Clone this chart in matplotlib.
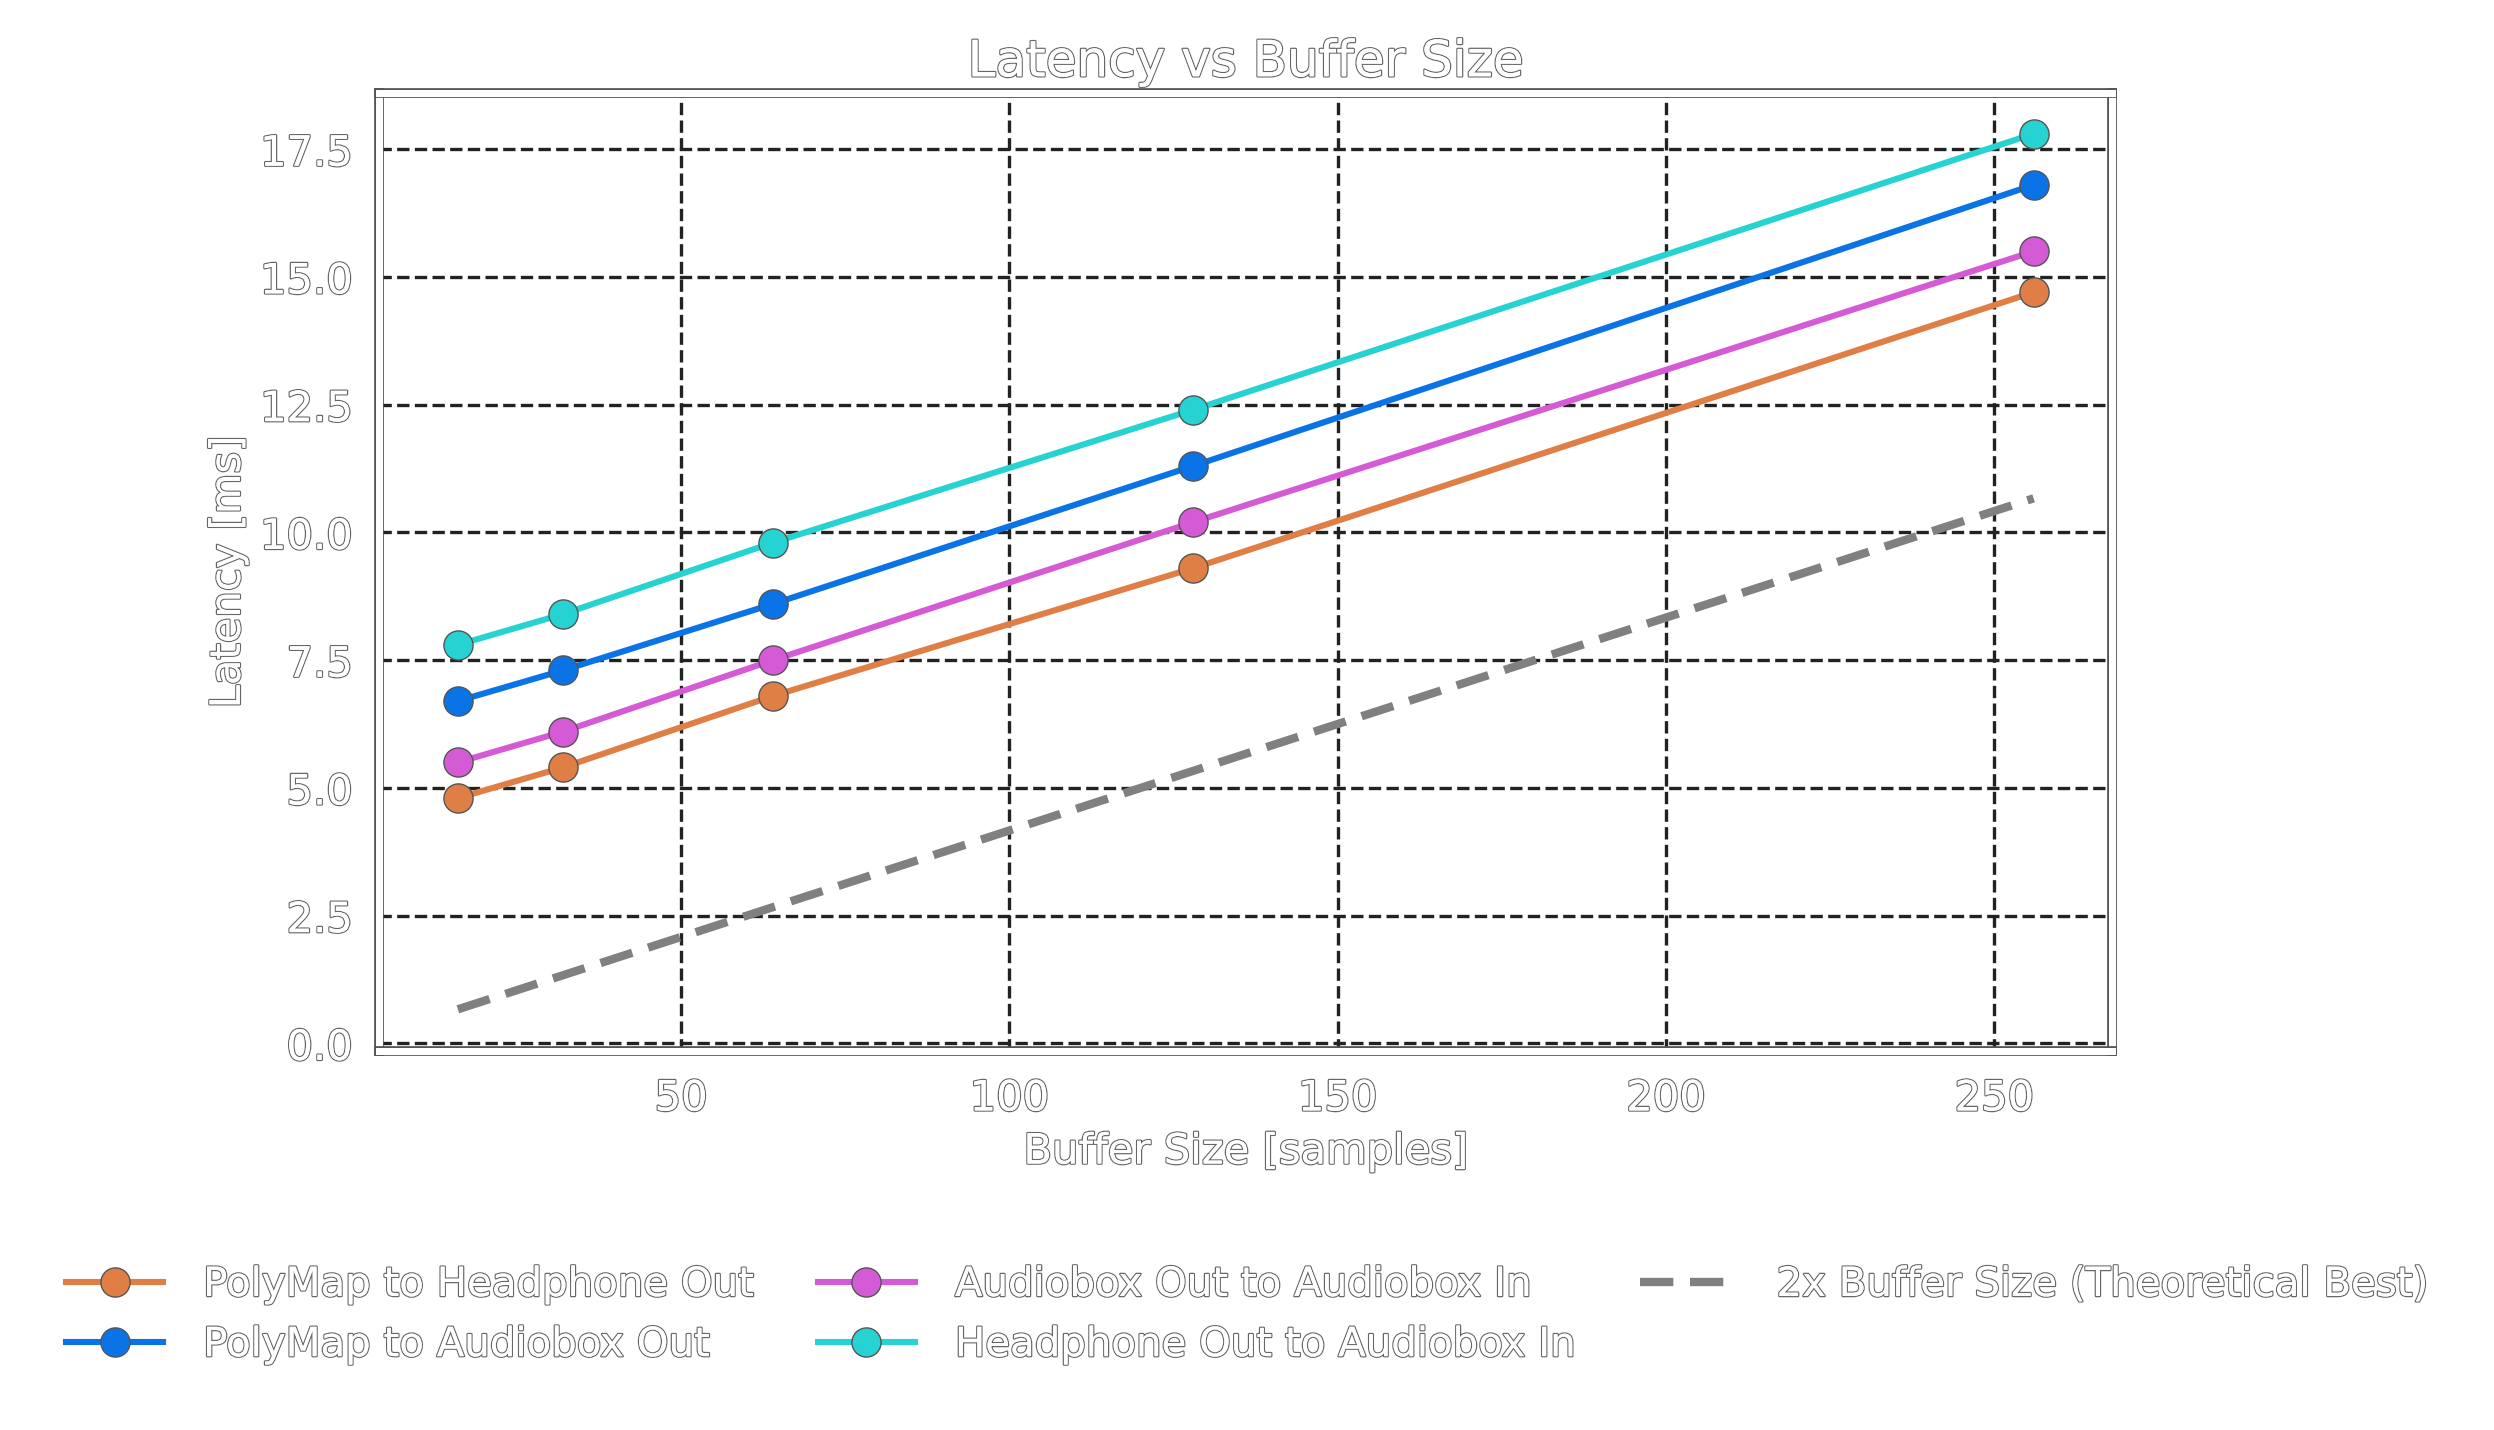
import matplotlib
matplotlib.use("Agg")
import matplotlib.pyplot as plt
import matplotlib.patheffects as pe
import numpy as np

buffer_sizes = [16, 32, 64, 128, 256]
polymap_headphone = [4.8, 5.4, 6.8, 9.3, 14.7]
polymap_audiobox = [6.7, 7.3, 8.6, 11.3, 16.8]
audiobox_loop = [5.5, 6.1, 7.5, 10.2, 15.5]
headphone_audiobox = [7.8, 8.4, 9.8, 12.4, 17.8]
sample_rate_khz = 48.0
theoretical = [2 * b / sample_rate_khz for b in buffer_sizes]

outline = [pe.withStroke(linewidth=0.9, foreground="#666666"), pe.Normal()]
plt.rcParams["font.size"] = 15
plt.rcParams["text.color"] = "white"

fig = plt.figure(figsize=(12.47, 7.15), dpi=200)
ax = fig.add_axes([0.152, 0.265, 0.695, 0.67])

series = [
    (polymap_headphone, "#e07f45", "PolyMap to Headphone Out"),
    (polymap_audiobox, "#0a74e6", "PolyMap to Audiobox Out"),
    (audiobox_loop, "#d45ad6", "Audiobox Out to Audiobox In"),
    (headphone_audiobox, "#26d2d2", "Headphone Out to Audiobox In"),
]
handles = {}
for vals, col, lab in series:
    h, = ax.plot(buffer_sizes, vals, "-o", color=col, lw=2.2, ms=10.5,
                 mec="#555555", mew=0.5, label=lab)
    handles[lab] = h
hd, = ax.plot(buffer_sizes, theoretical, "--", color="gray", lw=3,
              dashes=(4, 2), label="2x Buffer Size (Theoretical Best)")

ax.set_xticks([50, 100, 150, 200, 250])
ax.set_yticks(np.arange(0, 18, 2.5))
ax.set_ylim(-0.15, 18.6)
ax.set_xlim(4, 268)
ax.grid(True, color="#222222", linestyle="--", lw=1.2)
ax.tick_params(colors="white", length=6, width=2)
for s in ax.spines.values():
    s.set_color("white")
    s.set_linewidth(2.5)
    s.set_path_effects([pe.withStroke(linewidth=3.5, foreground="#555555"), pe.Normal()])

ax.set_title("Latency vs Buffer Size", color="white", path_effects=outline)
ax.set_xlabel("Buffer Size [samples]", color="white", path_effects=outline)
ax.set_ylabel("Latency [ms]", color="white", path_effects=outline)
for t in ax.get_xticklabels() + ax.get_yticklabels():
    t.set_path_effects(outline)
    t.set_color("white")

order = [series[0][2], series[1][2], series[2][2], series[3][2]]
leg = fig.legend([handles[o] for o in order] + [hd],
                 order + ["2x Buffer Size (Theoretical Best)"],
                 loc="lower center", bbox_to_anchor=(0.5, 0.02), ncol=3,
                 frameon=False, fontsize=14.5, handlelength=2.4,
                 columnspacing=1.6, handletextpad=1.0)
for t in leg.get_texts():
    t.set_path_effects(outline)
    t.set_color("white")

fig.savefig("out.png", dpi=200, facecolor="white")
